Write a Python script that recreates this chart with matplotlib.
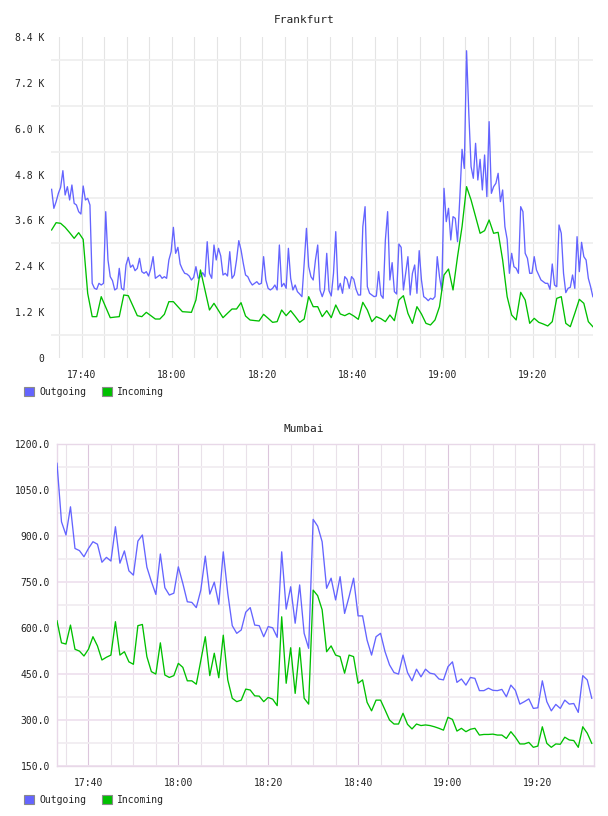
import numpy as np
import pandas as pd
import matplotlib
matplotlib.use('Agg')
import matplotlib.pyplot as plt
import matplotlib.dates as mdates
from matplotlib.patches import Patch
from matplotlib.ticker import FixedLocator, FuncFormatter

plt.rcParams['font.family'] = ['DejaVu Sans Mono', 'DejaVu Sans']

DAY = '2024-01-01'
titles = ['Frankfurt', 'Mumbai']
legend_labels = ['Outgoing', 'Incoming']

# Frankfurt: outgoing sampled every 30 s, incoming every minute
fra_out = [
    4414, 3916, 4091, 4309, 4466, 4902, 4265, 4483, 4135, 4527, 4047, 4004, 3829, 3768, 4501, 4135, 4178, 4004,
    1954, 1823, 1797, 1954, 1910, 1954, 3829, 2565, 2128, 2024, 1780, 1823, 2346, 1823, 1780, 2434, 2634, 2373,
    2434, 2285, 2346, 2608, 2259, 2216,
    2259, 2146, 2346, 2652, 2085, 2128, 2172, 2085, 2128, 2085, 2565, 2782, 3419, 2739, 2896, 2460, 2320, 2216,
    2198, 2146, 2041, 2111, 2390, 2085,
    2128, 2233, 2128, 3044, 2216, 2085, 2957, 2565, 2870, 2669, 2172, 2216, 2146, 2782, 2085, 2172, 2565, 3071,
    2826, 2477, 2172, 2128, 1997, 1910,
    1954, 1997, 1928, 1954, 2652, 2041, 1823, 1780, 1823, 1910, 1780, 2957, 1867, 1954, 1823, 2870, 2085, 1780,
    1910, 1736, 1675, 1605, 2477,
    3393, 2390, 2128, 2041, 2565, 2957, 1780, 1605, 1780, 2739, 1762, 1623, 2216, 3306, 1780, 1954, 1693, 2129,
    2059, 1823, 2129, 2059, 1797, 1649,
    1649, 3437, 3960, 1867, 1693, 1649, 1605, 1623, 2260, 1649, 1562, 3088, 3830, 2042, 2495, 1736, 1675, 2983,
    2896, 1780, 2216, 2652, 1649, 2216,
    2434, 1693, 2809, 2042, 1605, 1562, 1500, 1562, 1535, 1605, 2652, 2129, 1762, 4440, 3568, 3917, 3088, 3699,
    3655, 3044, 4178, 5461, 4960, 8040,
    6400, 5007, 4702, 5618, 4658, 5199, 4397, 5312, 4222, 6185, 4309, 4484, 4571, 4833, 4091, 4397, 3437, 3106,
    2216, 2739, 2390, 2347, 2216, 3960,
    3830, 2739, 2608, 2216, 2216, 2652, 2303, 2172, 2042, 1998, 1954, 1954, 1797, 2460, 1910, 1867, 3481, 3263,
    2216, 1710, 1823, 1850, 2172, 1823, 3175, 2260, 3027, 2652, 2565, 2085, 1867, 1605,
]
fra_in = [
    3350, 3541, 3524, 3419, 3280, 3131, 3280, 3105, 1692, 1082, 1082, 1605, 1330, 1055, 1070, 1082, 1649, 1631,
    1370, 1108, 1082, 1195, 1108, 1020, 1020, 1143, 1474, 1474, 1343, 1212, 1204, 1195, 1518, 2303, 1780, 1256,
    1431, 1243, 1055, 1170, 1282, 1282, 1448, 1099, 994, 980, 968, 1143, 1040, 933, 951, 1256, 1108, 1239,
    1090, 933, 1020, 1605, 1343, 1343, 1082,
    1239, 1056, 1387, 1152, 1108, 1169, 1099, 1012, 1457, 1256, 951, 1082, 1030, 951, 1125, 977, 1518, 1631,
    1169, 907, 1343, 1152, 907, 864, 995, 1343, 2172, 2329, 1780, 2652, 3437, 4484, 4135, 3700, 3263, 3332,
    3612, 3263, 3289, 2565, 1605, 1125, 995, 1719, 1518, 907, 1038, 934, 890, 838, 951, 1561, 1605, 907,
    820, 1169, 1535, 1431, 951, 820,
]

# Mumbai: both series sampled every minute
mum_out = [
    1138, 947, 904, 996, 860, 853, 833, 860, 882, 874,
    815, 831, 819, 931, 812, 852, 787, 773, 884, 904,
    799, 752, 710, 842, 732, 708, 714, 800, 746, 686,
    684, 667, 724, 835, 711, 750, 678, 849, 714, 608,
    583, 594, 652, 667, 610, 608, 572, 605, 601, 570,
    849, 662, 735, 616, 741, 583, 534, 955, 933, 882,
    730, 763, 692, 768, 648, 703, 763, 640, 640, 561,
    512, 572, 583, 523, 480, 455, 450, 512, 455, 428,
    466, 441, 466, 453, 450, 434, 431, 474, 490, 423,
    434, 414, 439, 436, 396, 396, 404, 397, 396, 400,
    376, 414, 397, 352, 360, 369, 338, 340, 428, 360,
    330, 351, 338, 365, 352, 354, 325, 445, 431, 371,
]
mum_in = [
    624, 552, 548, 610, 531, 525, 509, 531, 572, 542,
    496, 505, 512, 621, 512, 523, 490, 482, 608, 612,
    507, 458, 450, 552, 447, 439, 445, 485, 472, 428,
    428, 417, 494, 572, 445, 518, 438, 577, 431, 371,
    360, 365, 401, 398, 379, 378, 360, 374, 368, 347,
    637, 420, 536, 387, 536, 371, 352, 724, 706, 660,
    523, 542, 512, 507, 453, 512, 507, 420, 431, 358,
    330, 365, 365, 333, 300, 287, 287, 322, 286, 271,
    287, 282, 284, 282, 278, 273, 267, 309, 302, 264,
    273, 262, 270, 273, 251, 253, 253, 254, 251, 251,
    240, 262, 244, 222, 222, 227, 211, 215, 278, 224,
    211, 222, 221, 244, 235, 233, 211, 278, 257, 224,
]

fra_out_t = pd.date_range(f'{DAY} 17:33:20', periods=len(fra_out), freq='30s')
fra_in_t = pd.date_range(f'{DAY} 17:33:20', periods=len(fra_in), freq='60s')
mum_t = pd.date_range(f'{DAY} 17:33:00', periods=len(mum_out), freq='60s')

fra_yticks = [0, 1200, 2400, 3600, 4800, 6000, 7200, 8400]
fra_ygrid = [600, 1800, 3000, 4200, 5400, 6600, 7800]
mum_yticks = [150, 300, 450, 600, 750, 900, 1050, 1200]
mum_ygrid = [225, 375, 525, 675, 825, 975, 1125]

BLUE = '#6464ff'
GREEN = '#00c000'
TXT = '#222222'

W, H = 608, 816
fig = plt.figure(figsize=(W / 100, H / 100), dpi=100)
fig.patch.set_facecolor('white')

ax1 = fig.add_axes([51 / W, 1 - 358 / H, (593 - 51) / W, (358 - 37) / H])
ax2 = fig.add_axes([57 / W, 1 - 766 / H, (594 - 57) / W, (766 - 444.3) / H])

for ax in (ax1, ax2):
    ax.xaxis.set_major_locator(mdates.MinuteLocator(byminute=[0, 20, 40]))
    ax.xaxis.set_minor_locator(mdates.MinuteLocator(byminute=list(range(0, 60, 5))))
    ax.xaxis.set_major_formatter(mdates.DateFormatter('%H:%M'))
    ax.tick_params(axis='both', which='both', length=0, labelsize=7, labelcolor=TXT)
    ax.tick_params(axis='x', pad=9)
    ax.tick_params(axis='y', pad=5)
    ax.set_axisbelow(True)

# ---- Frankfurt ----
ax1.plot(fra_out_t, fra_out, color=BLUE, lw=0.95, zorder=3)
ax1.plot(fra_in_t, fra_in, color=GREEN, lw=0.95, zorder=3)
ax1.set_xlim(pd.Timestamp(f'{DAY} 17:33:12'), pd.Timestamp(f'{DAY} 19:33:22'))
ax1.set_ylim(0, 8400)
ax1.yaxis.set_major_locator(FixedLocator(fra_yticks))
ax1.yaxis.set_minor_locator(FixedLocator(fra_ygrid))
ax1.yaxis.set_major_formatter(FuncFormatter(lambda v, p: '0' if v == 0 else f'{v / 1000:.1f} K'))
for s in ax1.spines.values():
    s.set_visible(False)
ax1.grid(True, axis='x', which='both', color='#e4e4e4', lw=0.8)
ax1.grid(True, axis='y', which='minor', color='#efefef', lw=1.3)

# ---- Mumbai ----
ax2.plot(mum_t, mum_out, color=BLUE, lw=0.95, zorder=3)
ax2.plot(mum_t, mum_in, color=GREEN, lw=0.95, zorder=3)
ax2.set_xlim(pd.Timestamp(f'{DAY} 17:33:00'), pd.Timestamp(f'{DAY} 19:32:30'))
ax2.set_ylim(150, 1200)
ax2.yaxis.set_major_locator(FixedLocator(mum_yticks))
ax2.yaxis.set_minor_locator(FixedLocator(mum_ygrid))
ax2.yaxis.set_major_formatter(FuncFormatter(lambda v, p: f'{v:.1f}'))
for s in ax2.spines.values():
    s.set_color('#e8d8e8')
    s.set_linewidth(1.0)
ax2.grid(True, axis='x', which='major', color='#dcc6dc', lw=0.8)
ax2.grid(True, axis='x', which='minor', color='#e9e1e9', lw=0.8)
ax2.grid(True, axis='y', which='major', color='#efe2ef', lw=1.3)
ax2.grid(True, axis='y', which='minor', color='#f1edf1', lw=1.3)

# ---- titles ----
fig.text(0.5, 1 - 20 / H, titles[0], ha='center', va='center', fontsize=8, color=TXT)
fig.text(0.5, 1 - 429 / H, titles[1], ha='center', va='center', fontsize=8, color=TXT)

# ---- legends ----
def make_legend(ycenter):
    handles = [Patch(facecolor=BLUE, edgecolor='#8a8a8a', lw=0.8),
               Patch(facecolor=GREEN, edgecolor='#8a8a8a', lw=0.8)]
    fig.legend(handles, legend_labels, loc='center left',
               bbox_to_anchor=(24 / W, 1 - ycenter / H), ncol=2, frameon=False,
               fontsize=7, handlelength=1.05, handleheight=1.05, handletextpad=0.5,
               columnspacing=1.6, borderpad=0, borderaxespad=0, labelcolor=TXT)

make_legend(392)
make_legend(800)

fig.savefig('out.png', dpi=100, facecolor='white')
